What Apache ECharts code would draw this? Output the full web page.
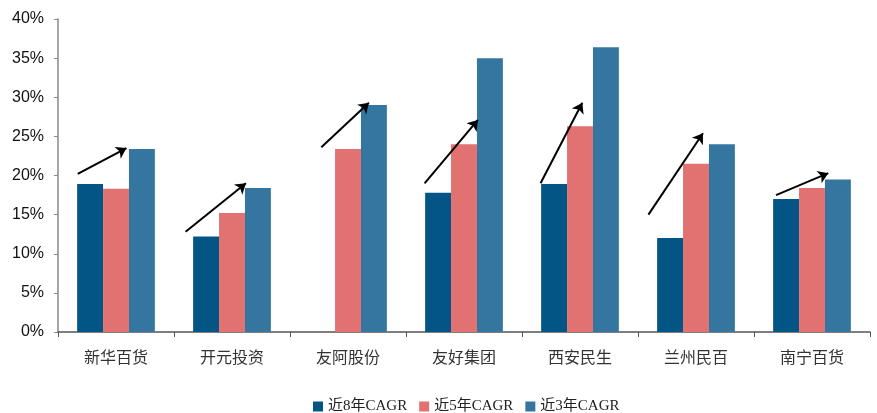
<!DOCTYPE html>
<html><head><meta charset="utf-8">
<script src="https://cdn.jsdelivr.net/npm/echarts/dist/echarts.min.js"></script>
<style>html,body{margin:0;padding:0;background:#fff}#c{width:877px;height:413px}</style>
</head><body><div id="c"></div>
<script>
const categories = ['新华百货', '开元投资', '友阿股份', '友好集团', '西安民生', '兰州民百', '南宁百货'];
const seriesNames = ['近8年CAGR', '近5年CAGR', '近3年CAGR'];
const cagr8 = [18.9, 12.2, null, 17.8, 18.9, 12.0, 17.0];
const cagr5 = [18.3, 15.2, 23.4, 24.0, 26.3, 21.5, 18.4];
const cagr3 = [23.4, 18.4, 29.0, 35.0, 36.4, 24.0, 19.5];
const yMin = 0, yMax = 40, yStep = 5;
// arrow annotations: [category position (0..7), percent] start and end
const arrowStart = [[0.17, 20.2], [1.10, 12.8], [2.27, 23.6], [3.16, 19.0], [4.16, 19.0], [5.09, 15.0], [6.19, 17.5]];
const arrowEnd   = [[0.59, 23.5], [1.62, 19.0], [2.68, 29.3], [3.62, 27.1], [4.52, 29.3], [5.56, 25.4], [6.64, 20.3]];

const colors = ['#035586', '#E27171', '#3476A0'];
const chart = echarts.init(document.getElementById('c'), null, {renderer: 'canvas'});
const latinCjk = "'Liberation Serif', 'Noto Sans CJK SC', serif";
chart.setOption({
  animation: false,
  color: colors,
  grid: {left: 58, right: 7, top: 19, bottom: 81},
  legend: {
    data: seriesNames,
    left: 308, top: 394,
    icon: 'rect', itemWidth: 10, itemHeight: 10, itemGap: 12,
    textStyle: {fontFamily: latinCjk, fontSize: 15, color: '#222'}
  },
  xAxis: [{
    type: 'category', data: categories,
    axisLine: {lineStyle: {color: '#555', width: 1.5}},
    axisTick: {show: true, length: 5, lineStyle: {color: '#555'}},
    axisLabel: {fontFamily: "'Noto Sans CJK SC'", fontSize: 16, color: '#333', margin: 17}
  }, {
    type: 'value', min: 0, max: 7, show: false
  }],
  yAxis: {
    type: 'value', min: yMin, max: yMax, interval: yStep,
    axisLine: {show: true, lineStyle: {color: '#888', width: 1.5}},
    axisTick: {show: true, length: 4, lineStyle: {color: '#888'}},
    splitLine: {show: false},
    axisLabel: {formatter: '{value}%', fontFamily: "'Liberation Sans', Arial", fontSize: 16, color: '#111', margin: 14}
  },
  series: [
    {name: seriesNames[0], type: 'bar', data: cagr8, barGap: 0, barCategoryGap: '33%'},
    {name: seriesNames[1], type: 'bar', data: cagr5, barGap: 0, barCategoryGap: '33%'},
    {name: seriesNames[2], type: 'bar', data: cagr3, barGap: 0, barCategoryGap: '33%'},
    {
      type: 'lines', coordinateSystem: 'cartesian2d', xAxisIndex: 1, yAxisIndex: 0,
      silent: true, z: 10,
      symbol: ['none', 'arrow'], symbolSize: 10,
      lineStyle: {color: '#000', width: 2, opacity: 1},
      data: arrowStart.map((s, i) => ({coords: [s, arrowEnd[i]]}))
    }
  ]
});
</script></body></html>
